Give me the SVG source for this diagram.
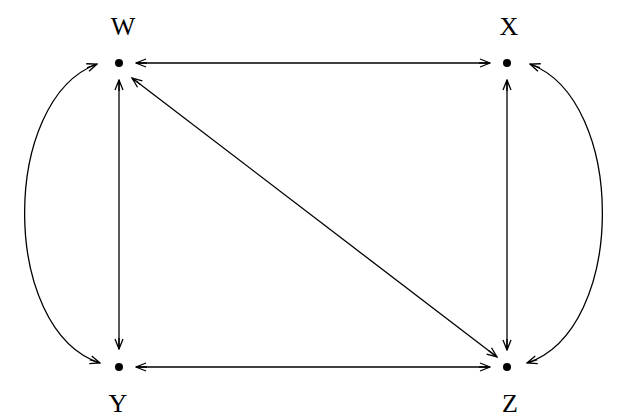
<svg xmlns="http://www.w3.org/2000/svg" width="622" height="420" viewBox="0 0 622 420">
<style>
.lbl{font-family:"Liberation Serif","Times New Roman",serif;font-size:26px;fill:#000;text-anchor:middle}
.edge{fill:none;stroke:#000;stroke-width:1.3;marker-start:url(#ah);marker-end:url(#ah)}
.dot{fill:#000}
</style>
<defs>
<marker id="ah" viewBox="0 0 12 10" refX="11" refY="5" markerWidth="12" markerHeight="10" markerUnits="userSpaceOnUse" orient="auto-start-reverse">
<path d="M1,1 L11,5 L1,9 M0,5 L11,5" fill="none" stroke="#000" stroke-width="1.3"/>
</marker>
</defs>
<g id="connectors">
<line class="edge" x1="136" y1="63" x2="490" y2="63"/>
<line class="edge" x1="136" y1="367" x2="490" y2="367"/>
<line class="edge" x1="119" y1="80" x2="119" y2="349"/>
<line class="edge" x1="507" y1="80" x2="507" y2="350"/>
<line class="edge" x1="132" y1="78" x2="497" y2="357"/>
<path class="edge" d="M97,64 C0,100 0,330 100,363"/>
<path class="edge" d="M530,64 C627,100 627,330 527,363"/>
</g>
<g id="W"><circle class="dot" cx="119" cy="63" r="4"/><text class="lbl" x="123" y="35">W</text></g>
<g id="X"><circle class="dot" cx="507" cy="63" r="4"/><text class="lbl" x="509" y="35">X</text></g>
<g id="Y"><circle class="dot" cx="119" cy="367" r="4"/><text class="lbl" x="118" y="412">Y</text></g>
<g id="Z"><circle class="dot" cx="507" cy="367" r="4"/><text class="lbl" x="510" y="412">Z</text></g>
</svg>
